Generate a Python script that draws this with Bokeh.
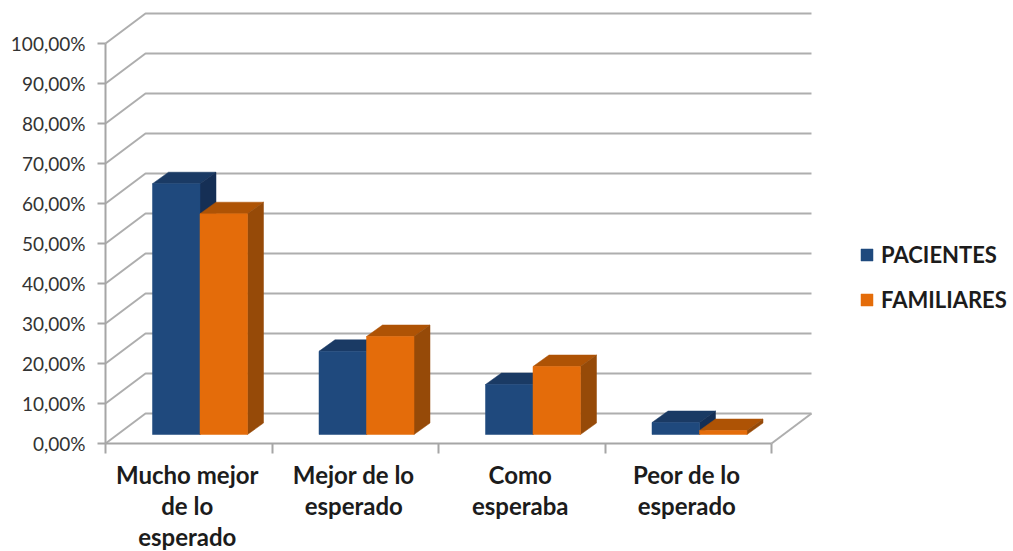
import numpy as np
from bokeh.core.properties import value
from bokeh.embed import file_html
from bokeh.models import FixedTicker, Legend, LegendItem, LinearAxis, Range1d
from bokeh.plotting import figure
from bokeh.resources import INLINE

categories = [["Mucho mejor", "de lo", "esperado"], ["Mejor de lo", "esperado"], ["Como", "esperaba"], ["Peor de lo", "esperado"]]
pacientes = [62.7, 20.8, 12.5, 3.0]
familiares = [55.2, 24.5, 17.0, 1.0]
y_ticks = list(range(0, 101, 10))
y_labels = {t: f"{t},00%" for t in y_ticks}

# Pixel scale of the front plane: one category and one percentage point
PX_X = 166.5
PX_Y = 4.0

# Canvas size and where the origin of the front plane sits on it
WIDTH, HEIGHT = 1013, 551
ORIGIN_X, ORIGIN_Y = 105, 443

# Oblique projection of the box: wall depth and bar depth, in data units
WALL_DX, WALL_DY = 40 / PX_X, 30 / PX_Y
BAR_DX, BAR_DY = 16 / PX_X, 11.5 / PX_Y
BAR_W = 47.5 / PX_X
BAR_X0 = 47 / PX_X
BASE = 9 / PX_Y

GRID = "#aeaeae"
AXIS = "#a6a6a6"
TEXT = "#1c1c1c"

p = figure(
    width=WIDTH, height=HEIGHT, output_backend="svg", toolbar_location=None,
    x_range=Range1d(-ORIGIN_X / PX_X, (WIDTH - ORIGIN_X) / PX_X),
    y_range=Range1d((ORIGIN_Y - HEIGHT) / PX_Y, ORIGIN_Y / PX_Y),
    x_axis_type=None, y_axis_type=None,
    min_border_left=0, min_border_right=0, min_border_top=0, min_border_bottom=0,
)
p.outline_line_color = None
p.grid.visible = False
p.background_fill_color = "white"

# Walls and floor: each level runs along the side wall, then the back wall
n_cat = len(categories)
xs = [[0, WALL_DX, n_cat + WALL_DX] for _ in y_ticks]
ys = [[t, t + WALL_DY, t + WALL_DY] for t in y_ticks]
p.multi_line(xs, ys, line_color=GRID, line_width=2)
p.line([n_cat, n_cat + WALL_DX], [0, WALL_DY], line_color=GRID, line_width=2)

def draw_series(values, slot, front, top, side):
    """Draw one series as oblique boxes: top and side faces, then the front quad."""
    lefts = np.arange(n_cat) + BAR_X0 + slot * BAR_W
    rights = lefts + BAR_W
    tops = BASE + np.array(values)
    p.patches(
        [[l, l + BAR_DX, r + BAR_DX, r] for l, r in zip(lefts, rights)],
        [[t, t + BAR_DY, t + BAR_DY, t] for t in tops],
        fill_color=top, line_color=top, line_width=0.5,
    )
    p.patches(
        [[r, r + BAR_DX, r + BAR_DX, r] for r in rights],
        [[BASE, BASE + BAR_DY, t + BAR_DY, t] for t in tops],
        fill_color=side, line_color=side, line_width=0.5,
    )
    return p.quad(left=lefts, right=rights, bottom=BASE, top=tops,
                  fill_color=front, line_color=front, line_width=0.5)

r_pac = draw_series(pacientes, 0, "#1f497d", "#1a3a64", "#152f55")
r_fam = draw_series(familiares, 1, "#e46c0a", "#ae5305", "#964a08")

# Axes are pinned to the origin of the front plane
yaxis = LinearAxis(
    fixed_location=0, ticker=FixedTicker(ticks=y_ticks), bounds=(0, 100),
    major_label_overrides=y_labels,
    axis_line_color=AXIS, axis_line_width=2,
    major_tick_line_color=AXIS, major_tick_line_width=2,
    major_tick_in=0, major_tick_out=8, minor_tick_in=0, minor_tick_out=0,
    major_label_standoff=12, major_label_text_font="Lato",
    major_label_text_font_size="19px", major_label_text_color="#333333",
)
p.add_layout(yaxis, "left")

boundaries = list(range(n_cat + 1))
xaxis = LinearAxis(
    fixed_location=0, ticker=FixedTicker(ticks=boundaries), bounds=(0, n_cat),
    major_label_overrides={b: "" for b in boundaries},
    axis_line_color=AXIS, axis_line_width=2,
    major_tick_line_color=AXIS, major_tick_line_width=2,
    major_tick_in=0, major_tick_out=10, minor_tick_in=0, minor_tick_out=0,
)
p.add_layout(xaxis, "below")

# Category names are wrapped by hand, one text per line, below the axis
label_x, label_y, label_text = [], [], []
for i, lines in enumerate(categories):
    for j, line in enumerate(lines):
        label_x.append(i + 0.5 - 1.5 / PX_X)
        label_y.append(-(31 + 31 * j) / PX_Y)
        label_text.append(line)
p.text(label_x, label_y, text=label_text, text_align="center", text_baseline="middle",
       text_font=value("Lato"), text_font_style="bold", text_font_size="24px",
       text_color=TEXT)

legend = Legend(
    items=[LegendItem(label="PACIENTES", renderers=[r_pac]),
           LegendItem(label="FAMILIARES", renderers=[r_fam])],
    location=(859, 238), orientation="vertical",
    glyph_width=15, glyph_height=15, label_standoff=7, spacing=18,
    padding=0, margin=0, border_line_color=None, background_fill_alpha=0,
    label_text_font="Lato", label_text_font_style="bold", label_text_font_size="22px",
    label_text_color=TEXT,
)
p.add_layout(legend)

open("out.html", "w").write(file_html(p, INLINE))
